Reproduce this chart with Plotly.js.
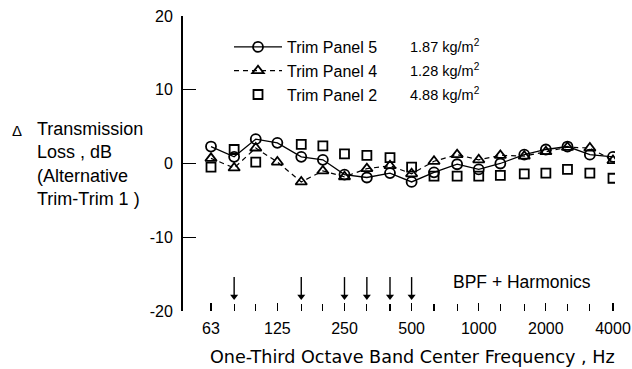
<!DOCTYPE html>
<html>
<head>
<meta charset="utf-8">
<script src="https://cdn.plot.ly/plotly-3.0.1.min.js"></script>
<style>html,body{margin:0;padding:0;background:#fff;}#chart{width:632px;height:369px;}</style>
</head>
<body>
<div id="chart"></div>
<script>
// One-third octave band centre frequencies (Hz)
const freqs = [63,80,100,125,160,200,250,315,400,500,630,800,1000,1250,1600,2000,2500,3150,4000];
const labelFreqs = [63,125,250,500,1000,2000,4000];
const tickLabels = ['63','125','250','500','1000','2000','4000'];
// Delta transmission loss, dB (alternative trim - trim 1)
const trim5 = [2.3,0.9,3.3,2.8,0.9,0.5,-1.5,-1.9,-1.3,-2.5,-1.2,-0.1,-0.8,0.0,1.2,1.9,2.3,1.2,0.9];
const trim4 = [0.7,-0.6,2.1,0.2,-2.5,-1.0,-1.8,-0.7,-0.3,-1.4,0.3,1.2,0.5,1.1,1.0,1.6,2.2,2.1,0.4];
const trim2 = [-0.5,1.9,0.2,null,2.6,2.4,1.3,1.1,0.8,-0.5,-1.7,-1.7,-1.7,-1.6,-1.4,-1.3,-0.8,-1.3,-2.0];
const seriesNames = ['Trim Panel 5','Trim Panel 4','Trim Panel 2'];
const surfaceMass = ['1.87','1.28','4.88'];
// Blade passage frequency and harmonics (Hz)
const bpfFreqs = [80,160,250,315,400,500];
const yTicks = [-20,-10,0,10,20];

const F = 'Liberation Sans, Arial, sans-serif';
const ARROW_TOP = -15.4, ARROW_TIP = -18.5;

const arrowX = [], arrowY = [];
bpfFreqs.forEach(f => { arrowX.push(f, f, null); arrowY.push(ARROW_TOP, ARROW_TIP + 0.4, null); });

const traces = [
  {x: freqs, y: trim5, name: seriesNames[0], type: 'scatter', mode: 'lines+markers',
   line: {color: '#000', width: 1.3},
   marker: {symbol: 'circle-open', size: 10, color: '#000', line: {width: 1.8}}},
  {x: freqs, y: trim4, name: seriesNames[1], type: 'scatter', mode: 'lines+markers',
   line: {color: '#000', width: 1.2, dash: '5px,4px'},
   marker: {symbol: 'triangle-up-open', size: 10, color: '#000', line: {width: 1.8}}},
  {x: freqs, y: trim2, name: seriesNames[2], type: 'scatter', mode: 'markers',
   marker: {symbol: 'square-open', size: 9, color: '#000', line: {width: 1.8}}},
  // BPF + harmonics arrows: shafts and heads
  {x: arrowX, y: arrowY, type: 'scatter', mode: 'lines', showlegend: false, hoverinfo: 'skip',
   line: {color: '#000', width: 1.4}},
  {x: bpfFreqs, y: bpfFreqs.map(() => ARROW_TIP + 0.45), type: 'scatter', mode: 'markers', showlegend: false, hoverinfo: 'skip',
   marker: {symbol: 'triangle-down', size: 7, color: '#000', line: {width: 0}}}
];

const L = 183, R = 615, T = 16, B = 311;
const px2paperX = p => (p - L) / (R - L);
const px2paperY = p => (B - p) / (B - T);

const annotations = [];
// y-axis title
annotations.push({xref:'paper', yref:'paper', x: px2paperX(10), y: px2paperY(130), xanchor:'left', yanchor:'middle',
  text:'Δ', showarrow:false, font:{family:F, size:15, color:'#000'}});
annotations.push({xref:'paper', yref:'paper', x: px2paperX(35), y: px2paperY(164.5), xanchor:'left', yanchor:'middle', align:'left',
  text:'Transmission<br>Loss , dB<br>(Alternative<br>Trim-Trim 1 )', showarrow:false, font:{family:F, size:18, color:'#000'}});
// x-axis title
annotations.push({xref:'paper', yref:'paper', x: px2paperX(412), y: px2paperY(357), xanchor:'center', yanchor:'middle',
  text:'One-Third Octave Band Center Frequency , Hz', showarrow:false, font:{family:'DejaVu Sans, sans-serif', size:17.6, color:'#000'}});
// surface mass column of legend
surfaceMass.forEach((m, i) => {
  annotations.push({xref:'paper', yref:'paper', x: px2paperX(408), y: px2paperY(46 + 24*i), xanchor:'left', yanchor:'middle',
    text: m + ' kg/m<sup>2</sup>', showarrow:false, font:{family:F, size:14.5, color:'#000'}});
});
annotations.push({xref:'paper', yref:'paper', x: px2paperX(522), y: px2paperY(282), xanchor:'center', yanchor:'middle',
  text:'BPF + Harmonics', showarrow:false, font:{family:F, size:17.5, color:'#000'}});

const layout = {
  width: 632, height: 369,
  margin: {l: L, r: 632 - R, t: T, b: 369 - B},
  paper_bgcolor: '#fff', plot_bgcolor: '#fff',
  font: {family: F, size: 16, color: '#000'},
  showlegend: true,
  legend: {x: px2paperX(229), y: px2paperY(30), xanchor:'left', yanchor:'top', bgcolor:'rgba(0,0,0,0)',
    font: {family: F, size: 16, color: '#000'}, itemwidth: 48, tracegroupgap: 0},
  xaxis: {type: 'log', range: [Math.log10(63) - 28/223, Math.log10(4000) + 2/223],
    tickmode: 'array', tickvals: labelFreqs, ticktext: tickLabels,
    ticks: 'inside', ticklen: 8, tickwidth: 1.2, tickcolor: '#000',
    minor: {tickmode: 'array', tickvals: freqs, ticks: 'inside', ticklen: 7, tickwidth: 1.2, tickcolor: '#000', showgrid: false},
    showline: false, showgrid: false, zeroline: false, ticklabelstandoff: 6,
    tickfont: {family: F, size: 16, color: '#000'}},
  yaxis: {range: [-20, 20], tickmode: 'array', tickvals: yTicks, ticktext: yTicks.map(String),
    ticks: 'inside', ticklen: 13, tickwidth: 1.2, tickcolor: '#000',
    showline: true, linewidth: 2, linecolor: '#000', showgrid: false, zeroline: false,
    ticklabelstandoff: 5, tickfont: {family: F, size: 16, color: '#000'}},
  shapes: [{type:'line', xref:'x', yref:'y', x0: Math.log10(freqs[0]), x1: Math.log10(freqs[freqs.length-1]), y0: -20, y1: -20,
    line: {color:'#000', width: 1.5}}],
  annotations: annotations
};

Plotly.newPlot('chart', traces, layout, {displayModeBar: false, staticPlot: true});
</script>
</body>
</html>
